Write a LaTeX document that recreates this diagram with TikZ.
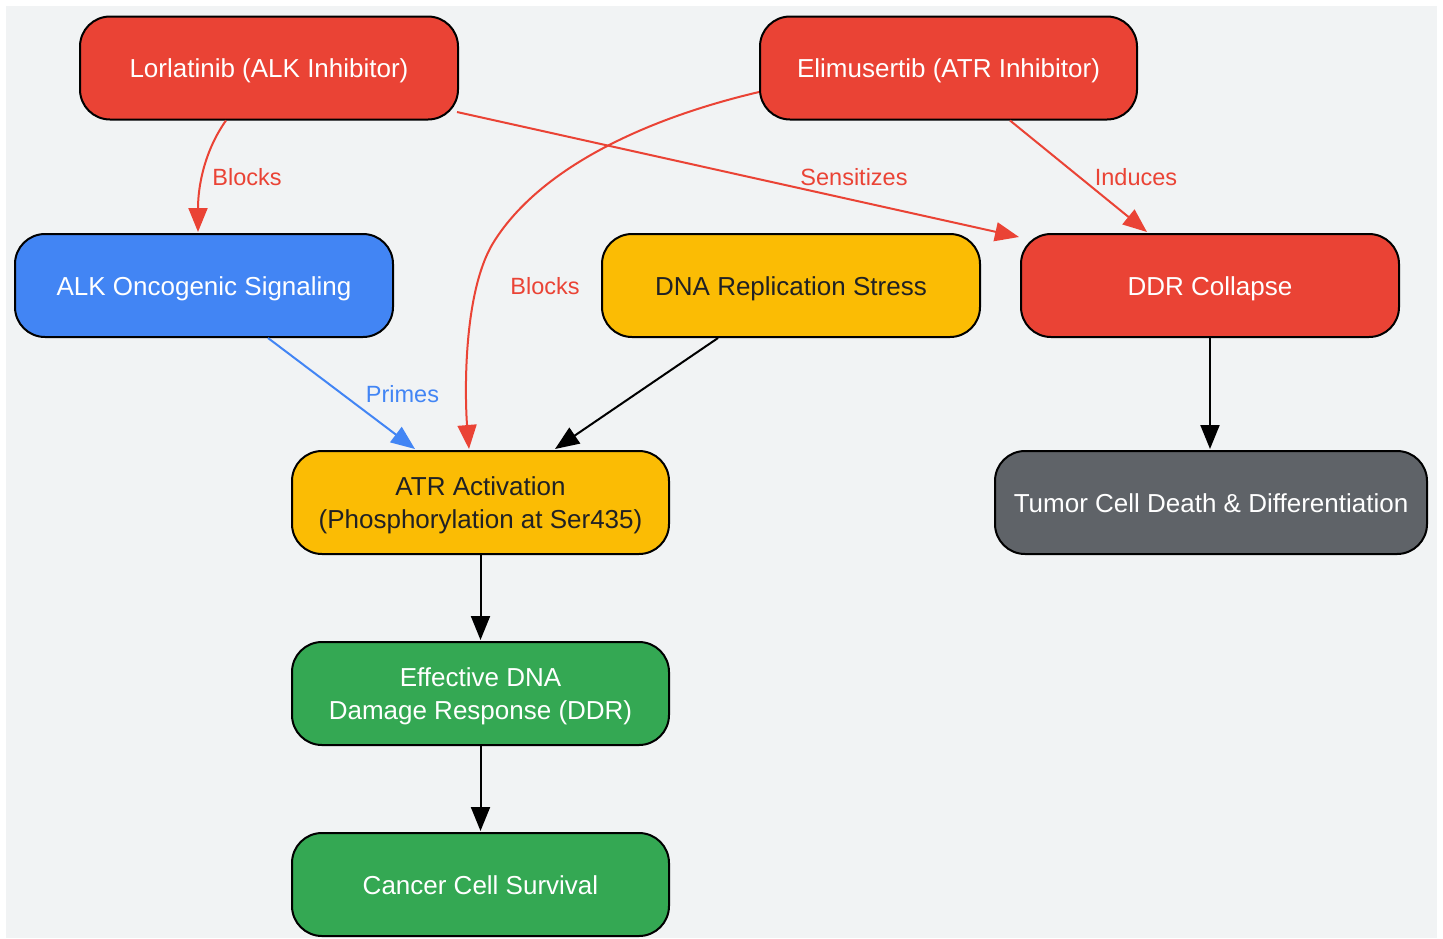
\documentclass[tikz,border=0pt]{standalone}
\usepackage{fontspec}
\setmainfont{Liberation Sans}
\usetikzlibrary{arrows.meta}
\definecolor{gred}{HTML}{EA4335}
\definecolor{gblue}{HTML}{4285F4}
\definecolor{gyellow}{HTML}{FBBC04}
\definecolor{ggreen}{HTML}{34A853}
\definecolor{ggray}{HTML}{5F6368}
\definecolor{bgc}{HTML}{F1F3F4}
\definecolor{dtext}{HTML}{202124}
\newcommand\boxtext[1]{\raisebox{-3pt}[\height][\depth]{\begin{tabular}{@{}c@{}}#1\end{tabular}}}
\tikzset{
  box/.style={draw=black, line width=2pt, rounded corners=30pt, minimum width=378pt, minimum height=103pt, inner sep=0pt, align=center, font=\fontsize{26}{33}\selectfont},
  redbox/.style={box, fill=gred, text=white},
  bluebox/.style={box, fill=gblue, text=white},
  yellowbox/.style={box, fill=gyellow, text=dtext},
  greenbox/.style={box, fill=ggreen, text=white},
  graybox/.style={box, fill=ggray, text=white},
  edge/.style={line width=2pt, -{Triangle[length=24pt,width=19pt]}},
  lbl/.style={inner sep=0pt, font=\fontsize{23.5}{28}\selectfont}
}
\begin{document}
\begin{tikzpicture}[x=1pt,y=-1pt]
\useasboundingbox (0,0) rectangle (1443,938);
\fill[bgc] (6,6) rectangle (1437,938);

\node[redbox] (lor) at (269,68) {\boxtext{Lorlatinib (ALK Inhibitor)}};
\node[redbox, minimum width=377pt] (eli) at (948.5,68) {\boxtext{Elimusertib (ATR Inhibitor)}};
\node[bluebox] (alk) at (204,285.5) {\boxtext{ALK Oncogenic Signaling}};
\node[yellowbox] (dna) at (791,285.5) {\boxtext{DNA Replication Stress}};
\node[redbox] (ddr) at (1210,285.5) {\boxtext{DDR Collapse}};
\node[yellowbox, minimum width=377pt] (atr) at (480.5,502.5) {\boxtext{ATR Activation\\(Phosphorylation at Ser435)}};
\node[graybox, minimum width=432pt] (tum) at (1211,502.5) {\boxtext{Tumor Cell Death \& Differentiation}};
\node[greenbox, minimum width=377pt] (eff) at (480.5,693.5) {\boxtext{Effective DNA\\Damage Response (DDR)}};
\node[greenbox, minimum width=377pt] (can) at (480.5,884.5) {\boxtext{Cancer Cell Survival}};

% edges
\draw[edge, gred] ([xshift=-43pt]lor.south) .. controls (205,150) and (198,185) .. ([xshift=-6pt,yshift=1pt]alk.north);
\draw[edge, gred] ([xshift=-2pt,yshift=-44pt]lor.east) -- ([xshift=-1pt,yshift=-4pt]ddr.north west);
\draw[edge, gred] ([yshift=-24pt]eli.west) .. controls (640,120) and (540,170) .. (495,240) .. controls (462,290) and (465,400) .. ([xshift=-11.5pt,yshift=1pt]atr.north);
\draw[edge, gred] ([xshift=61.5pt]eli.south) -- ([xshift=-63pt,yshift=1pt]ddr.north);
\draw[edge, gblue] ([xshift=64pt]alk.south) -- ([xshift=-65.5pt,yshift=1pt]atr.north);
\draw[edge, black] ([xshift=-73pt]dna.south) -- ([xshift=74.5pt,yshift=1pt]atr.north);
\draw[edge, black] (ddr.south) -- ([xshift=-1pt,yshift=1pt]tum.north);
\draw[edge, black] (atr.south) -- ([yshift=1pt]eff.north);
\draw[edge, black] (eff.south) -- ([yshift=1pt]can.north);

% labels
\node[lbl, text=gred] (l1) at (247,177) {Blocks};
\node[lbl, text=gred] (l2) at (854,177) {Sensitizes};
\node[lbl, text=gred] (l3) at (1136,177) {Induces};
\node[lbl, text=gred] (l4) at (545,286) {Blocks};
\node[lbl, text=gblue] (l5) at (402.5,394) {Primes};
\end{tikzpicture}
\end{document}
